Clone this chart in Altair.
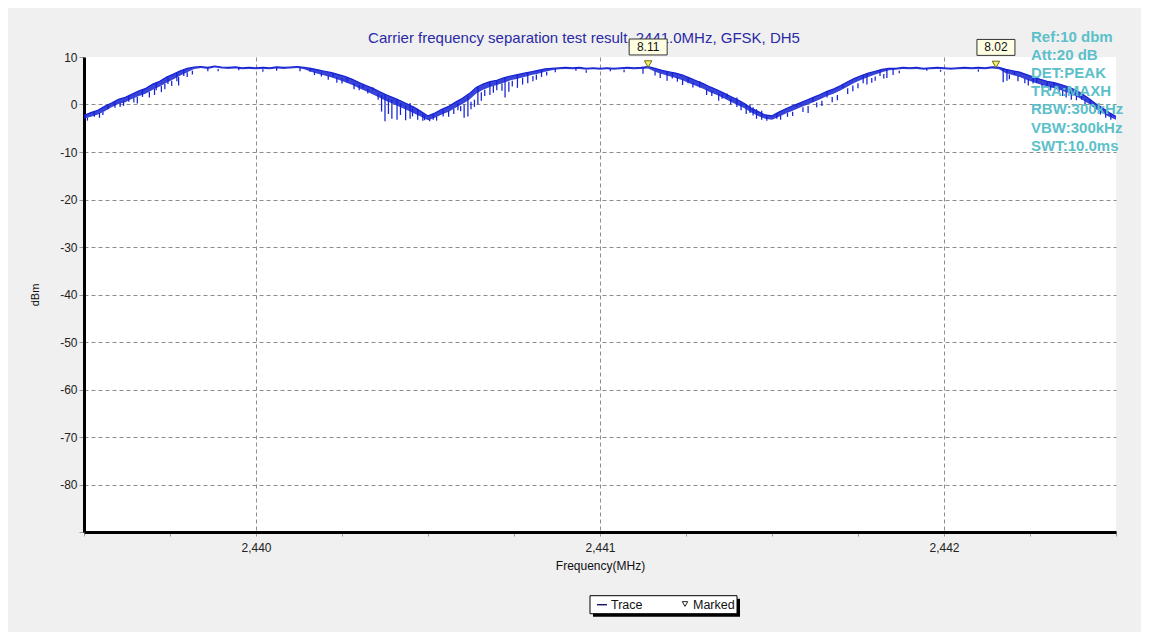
import altair as alt
import pandas as pd

# ---------------- data ----------------
freq_start = 2439.50
freq_step = 0.02
# upper edge of the trace band (dBm), one value per 0.02 MHz from 2439.50 to 2442.50
level = [
    -2.3, -1.7, -1.2, -0.4, 0.3, 1.1, 1.5, 2.2, 2.9, 3.4,
    4.3, 4.9, 5.8, 6.4, 7.1, 7.6, 7.9, 8.0, 7.8, 8.1,
    7.9, 7.8, 7.9, 7.7, 7.8, 7.7, 7.8, 7.7, 7.9, 7.8,
    7.9, 8.0, 7.8, 7.6, 7.3, 7.0, 6.7, 6.3, 5.9, 5.3,
    4.6, 4.0, 3.4, 2.7, 2.0, 1.4, 0.8, 0.1, -0.6, -1.5,
    -2.4, -1.8, -1.0, -0.4, 0.5, 1.3, 2.3, 3.6, 4.3, 4.8,
    5.1, 5.6, 6.0, 6.3, 6.6, 6.9, 7.2, 7.5, 7.6, 7.7,
    7.8, 7.7, 7.8, 7.6, 7.7, 7.6, 7.7, 7.6, 7.7, 7.8,
    7.7, 7.8, 8.0, 7.6, 7.2, 6.9, 6.6, 6.2, 5.6, 5.0,
    4.4, 3.7, 3.1, 2.4, 1.7, 1.0, 0.2, -0.8, -1.5, -2.2,
    -2.4, -1.6, -0.9, -0.3, 0.3, 0.9, 1.5, 2.1, 2.8, 3.3,
    4.0, 4.8, 5.5, 6.1, 6.6, 7.0, 7.4, 7.6, 7.6, 7.8,
    7.7, 7.8, 7.6, 7.7, 7.8, 7.7, 7.6, 7.7, 7.8, 7.7,
    7.8, 7.7, 7.9, 7.8, 7.4, 7.1, 6.8, 6.3, 5.8, 5.3,
    4.9, 4.6, 4.2, 3.7, 3.1, 2.3, 1.3, 0.2, -0.7, -1.7,
    -2.5,
]
# lower edge of the trace band (dBm), same frequencies
floor = [
    -3.0, -2.6, -2.1, -1.4, -0.6, 0.1, 0.5, 1.2, 1.8, 2.3,
    3.1, 3.8, 4.6, 5.3, 6.1, 6.8, 7.5, 7.7, 7.5, 7.8,
    7.6, 7.5, 7.6, 7.4, 7.5, 7.4, 7.5, 7.4, 7.6, 7.5,
    7.6, 7.7, 7.4, 6.9, 6.5, 6.1, 5.7, 5.2, 4.7, 4.1,
    3.4, 2.8, 2.1, 1.4, 0.7, 0.1, -0.6, -1.2, -1.9, -2.6,
    -3.3, -2.8, -2.1, -1.5, -0.7, 0.1, 1.0, 2.3, 3.1, 3.7,
    4.1, 4.6, 5.1, 5.4, 5.8, 6.2, 6.5, 6.9, 7.2, 7.4,
    7.5, 7.4, 7.5, 7.3, 7.4, 7.3, 7.4, 7.3, 7.4, 7.5,
    7.4, 7.5, 7.6, 6.9, 6.4, 6.0, 5.6, 5.1, 4.5, 3.9,
    3.3, 2.6, 2.0, 1.3, 0.6, -0.1, -0.8, -1.7, -2.4, -3.0,
    -3.2, -2.6, -1.9, -1.3, -0.7, -0.1, 0.5, 1.1, 1.8, 2.3,
    3.0, 3.8, 4.6, 5.2, 5.8, 6.3, 6.8, 7.2, 7.3, 7.5,
    7.4, 7.5, 7.3, 7.4, 7.5, 7.4, 7.3, 7.4, 7.5, 7.4,
    7.5, 7.4, 7.6, 7.4, 6.6, 6.2, 5.8, 5.2, 4.7, 4.2,
    3.8, 3.4, 3.0, 2.5, 1.9, 1.1, 0.2, -0.9, -1.8, -2.6,
    -3.2,
]
freq = [round(freq_start + freq_step * i, 3) for i in range(len(level))]

# downward noise spikes: (MHz, top dBm, bottom dBm)
spikes_hump1 = [
    (2439.51, -2.8, -3.4), (2439.53, -1.4, -2.6), (2439.545, -1.8, -2.8), (2439.555, -1.5, -2.2),
    (2439.57, 0.0, -1.0), (2439.59, 0.7, -0.7), (2439.605, 0.4, -0.5), (2439.615, 0.7, -0.3),
    (2439.63, 1.9, 0.6), (2439.645, 1.4, 0.4), (2439.655, 1.6, 0.2), (2439.67, 3.1, 1.6),
    (2439.69, 2.7, 1.5), (2439.705, 3.3, 2.0), (2439.71, 4.6, 3.0), (2439.725, 3.9, 2.6),
    (2439.735, 4.3, 3.2), (2439.744, 5.7, 4.3), (2439.755, 5.0, 3.9), (2439.77, 6.7, 4.9),
    (2439.775, 5.8, 4.0), (2439.79, 7.3, 6.0), (2439.80, 6.8, 5.8), (2439.815, 7.1, 6.3),
    (2439.86, 7.9, 7.0), (2439.89, 7.5, 7.0), (2439.95, 7.8, 7.2), (2440.02, 7.4, 6.9),
    (2440.06, 7.8, 7.1), (2440.128, 7.9, 7.0), (2440.157, 7.7, 6.9), (2440.17, 7.0, 6.2),
    (2440.19, 6.7, 5.9),
]
spikes_dip1 = [
    (2440.21, 6.1, 5.2), (2440.224, 6.6, 5.8), (2440.235, 5.7, 4.6), (2440.25, 5.4, 4.4),
    (2440.265, 5.8, 4.6), (2440.285, 4.5, 3.2), (2440.30, 4.1, 3.0), (2440.311, 4.3, 3.4),
    (2440.325, 3.3, 2.3), (2440.34, 3.6, 3.0), (2440.355, 2.3, 1.0), (2440.365, 2.0, -1.5),
    (2440.375, 2.2, -3.5), (2440.385, 1.2, -2.0), (2440.395, 1.0, -3.0), (2440.41, 1.2, -3.2),
    (2440.42, 0.3, -2.2), (2440.435, -0.2, -3.3), (2440.448, 0.3, -3.0), (2440.455, -0.9, -2.5),
    (2440.47, -0.9, -3.2), (2440.485, -2.0, -3.4), (2440.49, -2.4, -3.3), (2440.505, -3.0, -3.5),
    (2440.515, -2.0, -3.2), (2440.525, -2.5, -3.4), (2440.544, -1.2, -2.5), (2440.56, -1.3, -2.6),
    (2440.575, -0.9, -2.0), (2440.587, 0.2, -1.2), (2440.595, -0.3, -1.4), (2440.605, 0.0, -2.8),
    (2440.616, 1.8, -2.5), (2440.625, 0.6, -1.0), (2440.635, 1.0, -0.5), (2440.645, 3.8, 0.0),
    (2440.655, 2.6, 0.8), (2440.665, 3.1, 1.8), (2440.68, 4.7, 2.0), (2440.69, 3.9, 2.5),
    (2440.70, 5.1, 3.0), (2440.715, 4.4, 2.9), (2440.724, 5.6, 1.5), (2440.735, 4.8, 2.7),
    (2440.745, 5.0, 3.8), (2440.76, 6.3, 3.5), (2440.775, 5.6, 4.2), (2440.79, 6.8, 4.5),
    (2440.805, 6.0, 4.9), (2440.815, 6.3, 5.2), (2440.83, 7.3, 5.8), (2440.845, 6.9, 6.1),
    (2440.87, 7.6, 6.8), (2440.93, 7.7, 7.1), (2440.96, 7.2, 6.7), (2441.03, 7.6, 7.0),
    (2441.07, 7.3, 6.8), (2441.125, 7.8, 6.5), (2441.16, 7.0, 6.1), (2441.175, 6.7, 5.6),
]
spikes_dip2 = [
    (2441.195, 7.0, 5.0), (2441.21, 6.8, 5.5), (2441.225, 5.8, 4.8), (2441.24, 5.3, 4.1),
    (2441.256, 5.8, 4.5), (2441.27, 4.6, 3.6), (2441.29, 4.9, 3.6), (2441.31, 3.3, 2.0),
    (2441.325, 2.9, 1.8), (2441.345, 2.3, 0.8), (2441.355, 2.1, 1.2), (2441.369, 2.3, 1.3),
    (2441.38, 1.3, 0.0), (2441.398, 1.5, -0.5), (2441.41, 0.4, -1.2), (2441.425, 0.0, -2.0),
    (2441.436, 0.0, -1.8), (2441.445, -0.6, -2.3), (2441.455, -1.0, -3.0), (2441.47, -1.3, -3.2),
    (2441.485, -2.2, -3.4), (2441.514, -1.8, -3.0), (2441.525, -2.3, -3.2), (2441.545, -1.8, -2.6),
    (2441.56, -1.5, -2.4), (2441.572, 0.0, -0.5), (2441.59, -0.6, -1.6), (2441.605, -0.3, -1.8),
    (2441.619, 1.4, 0.6), (2441.63, 0.4, -0.6), (2441.645, 0.8, -0.3), (2441.66, 2.8, 1.5),
    (2441.675, 1.6, 0.5), (2441.69, 2.0, 0.9), (2441.706, 4.3, 3.5), (2441.72, 3.4, 2.2),
    (2441.735, 4.0, 2.8), (2441.75, 4.5, 3.4), (2441.765, 6.2, 4.5), (2441.776, 6.4, 4.2),
    (2441.79, 5.6, 4.6), (2441.80, 5.9, 5.0), (2441.814, 7.2, 6.0), (2441.825, 6.4, 5.5),
    (2441.834, 7.5, 5.6), (2441.852, 7.6, 6.2), (2441.87, 7.1, 6.6), (2441.95, 7.7, 7.1),
    (2441.99, 7.3, 6.9), (2442.10, 7.4, 6.9),
]
spikes_tail = [
    (2442.172, 7.6, 4.7), (2442.183, 7.4, 5.0), (2442.19, 6.3, 5.3), (2442.205, 7.0, 6.2),
    (2442.215, 6.0, 4.9), (2442.235, 5.5, 4.5), (2442.245, 5.3, 4.0), (2442.259, 6.1, 4.4),
    (2442.27, 5.8, 4.6), (2442.285, 4.4, 3.5), (2442.30, 4.9, 3.8), (2442.31, 4.0, 3.0),
    (2442.32, 4.6, 4.0), (2442.335, 3.2, 2.4), (2442.345, 2.9, 1.8), (2442.355, 2.7, 1.5),
    (2442.37, 3.4, 1.0), (2442.385, 1.9, 0.9), (2442.40, 2.0, 1.0), (2442.41, 1.0, -0.2),
    (2442.425, 1.0, 0.2), (2442.44, -0.2, -1.5), (2442.455, -0.7, -2.1), (2442.47, -1.4, -2.8),
    (2442.485, -2.0, -3.2),
]

marker_freq = [2441.14, 2442.151]
marker_level = [8.11, 8.02]

title_text = "Carrier frequency separation test result, 2441.0MHz, GFSK, DH5"
info_lines = ["Ref:10 dbm", "Att:20 dB", "DET:PEAK", "TRA:MAXH",
              "RBW:300kHz", "VBW:300kHz", "SWT:10.0ms"]
legend_labels = ["Trace", "Marked"]
x_title = "Frequency(MHz)"
y_title = "dBm"

x_domain = [2439.5, 2442.5]
y_domain = [-90, 10]
x_tick_values = [2439.5 + 0.25 * k for k in range(13)]
y_tick_values = [-90 + 2.5 * k for k in range(41)]

# ---------------- style ----------------
BLUE = "#1522d2"
FONT = "Liberation Sans"
W, H = 1032, 475

all_spikes = spikes_hump1 + spikes_dip1 + spikes_dip2 + spikes_tail
trace_df = pd.DataFrame({"freq": freq, "level": level, "floor": floor})
spike_df = pd.DataFrame(all_spikes, columns=["freq", "top", "low"])
marker_df = pd.DataFrame({"freq": marker_freq, "level": marker_level,
                          "label": [f"{v:.2f}" for v in marker_level]})
title_df = pd.DataFrame({"t": [title_text]})
info_df = pd.DataFrame({"t": ["\n".join(info_lines)]})
leg1_df = pd.DataFrame({"t": [legend_labels[0]]})
leg2_df = pd.DataFrame({"t": [legend_labels[1]]})

x_scale = alt.Scale(domain=x_domain, nice=False, zero=False)
y_scale = alt.Scale(domain=y_domain, nice=False, zero=False)

x_axis = alt.Axis(
    values=x_tick_values, format=",d",
    labelExpr="datum.value % 1 == 0 ? datum.label : ''",
    labelOverlap=False, labelFont=FONT, labelFontSize=12, labelColor="#222222",
    labelPadding=6, tickSize=4, tickColor="#999999", tickWidth=1,
    domainColor="#000000", domainWidth=3,
    grid=True, gridColor="#8c8c8c", gridDash=[4, 3], gridWidth=1,
    gridOpacity={"condition": {"test": "datum.value % 1 != 0", "value": 0}, "value": 1},
    title=x_title, titleFont=FONT, titleFontSize=12, titleFontWeight="normal",
    titleColor="#111111", titleY=33, titleBaseline="middle",
)
y_axis = alt.Axis(
    values=y_tick_values,
    labelExpr="datum.value % 10 == 0 && datum.value > -90 ? '' + datum.value : ''",
    labelOverlap=False, labelFont=FONT, labelFontSize=12, labelColor="#222222",
    labelPadding=2,
    tickSize={"condition": {"test": "datum.value % 10 != 0", "value": 3}, "value": 5},
    tickColor="#999999", tickWidth=1,
    domainColor="#000000", domainWidth=3,
    grid=True, gridColor="#8c8c8c", gridDash=[4, 3], gridWidth=1,
    gridOpacity={"condition": {"test": "datum.value % 10 != 0 || datum.value >= 10 || datum.value <= -90",
                               "value": 0}, "value": 1},
    title=y_title, titleFont=FONT, titleFontSize=11, titleFontWeight="normal",
    titleColor="#111111", titleX=-49, titleY=H / 2, titleAlign="center",
    titleBaseline="middle", titleAngle=270,
)

band = alt.Chart(trace_df).mark_area(color=BLUE, opacity=0.85, clip=True).encode(
    x=alt.X("freq:Q", scale=x_scale, axis=x_axis),
    y=alt.Y("level:Q", scale=y_scale, axis=y_axis),
    y2="floor:Q",
)
trace = alt.Chart(trace_df).mark_line(color=BLUE, strokeWidth=1.2, clip=True).encode(
    x=alt.X("freq:Q", scale=x_scale),
    y=alt.Y("level:Q", scale=y_scale),
)

spikes = alt.Chart(spike_df).mark_rule(color=BLUE, strokeWidth=1.25).encode(
    x=alt.X("freq:Q", scale=x_scale),
    y=alt.Y("top:Q", scale=y_scale),
    y2="low:Q",
)

title_mark = alt.Chart(title_df).mark_text(
    font=FONT, fontSize=15, color="#2a2aa6", align="center", baseline="middle"
).encode(x=alt.value(500), y=alt.value(-19), text="t:N")

info = alt.Chart(info_df).mark_text(
    font=FONT, fontSize=15, fontWeight="bold", color="#5cc0ca", align="left",
    baseline="top", lineBreak="\n", lineHeight=18.1
).encode(x=alt.value(947), y=alt.value(-27), text="t:N")

markers = alt.Chart(marker_df).mark_point(
    shape="triangle-down", filled=True, fill="#f6f06c", stroke="#6b6b10",
    strokeWidth=1, size=55, opacity=1, yOffset=-2
).encode(x=alt.X("freq:Q", scale=x_scale), y=alt.Y("level:Q", scale=y_scale))

boxes = alt.Chart(marker_df).mark_point(
    shape="M-1,-0.42L1,-0.42L1,0.42L-1,0.42Z", filled=True, fill="#ffffe4",
    stroke="#333333", strokeWidth=1, size=1444, opacity=1, yOffset=-19
).encode(x=alt.X("freq:Q", scale=x_scale), y=alt.Y("level:Q", scale=y_scale))

box_text = alt.Chart(marker_df).mark_text(
    font=FONT, fontSize=12, color="#111111", align="center", baseline="middle", yOffset=-19
).encode(x=alt.X("freq:Q", scale=x_scale), y=alt.Y("level:Q", scale=y_scale), text="label:N")

# custom legend box
leg_shadow = alt.Chart(leg1_df).mark_rect(color="#000000").encode(
    x=alt.value(509), x2=alt.value(656), y=alt.value(541.7), y2=alt.value(559.7))
leg_box = alt.Chart(leg1_df).mark_rect(fill="#ffffff", stroke="#000000", strokeWidth=1).encode(
    x=alt.value(506), x2=alt.value(653), y=alt.value(538.7), y2=alt.value(556.7))
leg_line = alt.Chart(leg1_df).mark_rule(color="#1a1a66", strokeWidth=1.5).encode(
    x=alt.value(513), x2=alt.value(523), y=alt.value(547.7))
leg_t1 = alt.Chart(leg1_df).mark_text(
    font=FONT, fontSize=12.5, color="#111111", align="left", baseline="middle"
).encode(x=alt.value(527), y=alt.value(547.7), text="t:N")
leg_tri = alt.Chart(leg2_df).mark_point(
    shape="triangle-down", filled=False, stroke="#222222", strokeWidth=1, size=30, opacity=1
).encode(x=alt.value(601), y=alt.value(547))
leg_t2 = alt.Chart(leg2_df).mark_text(
    font=FONT, fontSize=12.5, color="#111111", align="left", baseline="middle"
).encode(x=alt.value(609), y=alt.value(547.7), text="t:N")

chart = alt.layer(
    band, trace, spikes, title_mark, info, markers, boxes, box_text,
    leg_shadow, leg_box, leg_line, leg_t1, leg_tri, leg_t2,
).properties(
    width=W, height=H,
    autosize=alt.AutoSizeParams(type="none"),
    padding={"left": 76, "top": 49, "right": 25, "bottom": 100},
    background="#f0f0f0",
).configure_view(fill="white", strokeWidth=0)

chart.save("out.html", embed_options={"renderer": "svg", "actions": False})
